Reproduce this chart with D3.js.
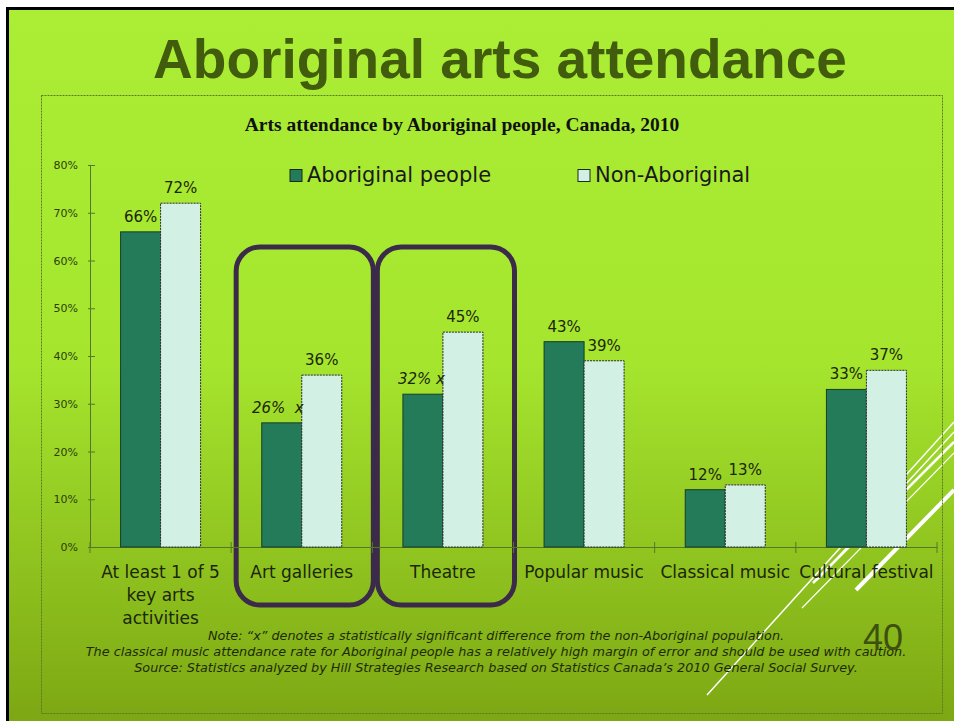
<!DOCTYPE html>
<html>
<head>
<meta charset="utf-8">
<title>Aboriginal arts attendance</title>
<script src="https://d3js.org/d3.v7.min.js"></script>
<style>
  body { margin: 0; background: #fff; }
  svg { display: block; }
</style>
</head>
<body>
<div id="chart"></div>
<script>
    // chart data
    var categories = ["At least 1 of 5 key arts activities", "Art galleries", "Theatre", "Popular music", "Classical music", "Cultural festival"];
    var categoryLines = [["At least 1 of 5", "key arts", "activities"], ["Art galleries"], ["Theatre"], ["Popular music"], ["Classical music"], ["Cultural festival"]];
    var seriesNames = ["Aboriginal people", "Non-Aboriginal"];
    var aboriginal = [66, 26, 32, 43, 12, 33];
    var nonAboriginal = [72, 36, 45, 39, 13, 37];
    var significant = [false, true, true, false, false, false]; // "x" marker
    var yTicks = [0, 10, 20, 30, 40, 50, 60, 70, 80];
    var highlighted = ["Art galleries", "Theatre"];
    var notes = [
        "Note: \u201cx\u201d denotes a statistically significant difference from the non-Aboriginal population.",
        "The classical music attendance rate for Aboriginal people has a relatively high margin of error and should be used with caution.",
        "Source: Statistics analyzed by Hill Strategies Research based on Statistics Canada\u2019s 2010 General Social Survey."
    ];

    var width = 954, height = 721;
    var darkFill = "#237b5a", lightFill = "#d3f0e4";
    var sansFont = "'DejaVu Sans', sans-serif";

    var svg = d3.select("#chart").append("svg")
        .attr("width", width)
        .attr("height", height);

    // slide background
    var defs = svg.append("defs");
    var grad = defs.append("linearGradient")
        .attr("id", "bg")
        .attr("x1", 0).attr("y1", 0).attr("x2", 0).attr("y2", 1);
    grad.append("stop").attr("offset", "0").attr("stop-color", "#abee35");
    grad.append("stop").attr("offset", "0.5").attr("stop-color", "#a5e52e");
    grad.append("stop").attr("offset", "1").attr("stop-color", "#7da713");

    svg.append("rect")
        .attr("x", 6).attr("y", 7)
        .attr("width", width - 6).attr("height", height - 7)
        .attr("fill", "url(#bg)");
    svg.append("line")
        .attr("x1", 6).attr("y1", 8.5).attr("x2", width).attr("y2", 8.5)
        .attr("stroke", "#000").attr("stroke-width", 3);
    svg.append("line")
        .attr("x1", 7.5).attr("y1", 7).attr("x2", 7.5).attr("y2", height)
        .attr("stroke", "#000").attr("stroke-width", 3);

    // decorative white strokes, bottom right (drawn under the bars)
    var strokes = [
        [707, 695, 954, 422, 1.5],
        [856, 590, 954, 490, 4],
        [813, 583, 954, 442, 2.5],
        [817, 580, 954, 432, 1.5],
        [802, 608, 954, 453, 1.2]
    ];
    svg.append("g").selectAll("line")
        .data(strokes)
        .enter().append("line")
        .attr("x1", function (d) { return d[0]; })
        .attr("y1", function (d) { return d[1]; })
        .attr("x2", function (d) { return d[2]; })
        .attr("y2", function (d) { return d[3]; })
        .attr("stroke", "#fff")
        .attr("stroke-width", function (d) { return d[4]; });

    // slide title
    svg.append("text")
        .attr("x", 500).attr("y", 78)
        .attr("text-anchor", "middle")
        .attr("font-family", "'Liberation Sans', Arial, sans-serif")
        .attr("font-weight", "bold")
        .attr("font-size", "55px")
        .attr("fill", "#415c0c")
        .text("Aboriginal arts attendance");

    // chart frame
    svg.append("rect")
        .attr("x", 41.5).attr("y", 95.5)
        .attr("width", 901).attr("height", 618)
        .attr("fill", "none")
        .attr("stroke", "#5b7a22")
        .attr("stroke-dasharray", "2,1");

    svg.append("text")
        .attr("x", 462).attr("y", 131)
        .attr("text-anchor", "middle")
        .attr("font-family", "'Liberation Serif', 'Times New Roman', serif")
        .attr("font-weight", "bold")
        .attr("font-size", "19.5px")
        .attr("fill", "#111")
        .text("Arts attendance by Aboriginal people, Canada, 2010");

    // scales
    var x = d3.scaleBand().domain(categories).range([90, 937]).padding(0);
    var y = d3.scaleLinear().domain([0, 80]).range([547, 165]);
    var barW = 40;

    // highlight boxes
    svg.append("g").selectAll("rect")
        .data(highlighted)
        .enter().append("rect")
        .attr("x", function (d) { return x(d) + 5; })
        .attr("y", 247)
        .attr("width", x.bandwidth() - 4)
        .attr("height", 358)
        .attr("rx", 24).attr("ry", 24)
        .attr("fill", "none")
        .attr("stroke", "#3b2a4a")
        .attr("stroke-width", 5);

    // y axis
    var yAxis = svg.append("g")
        .attr("transform", "translate(90,0)")
        .call(d3.axisLeft(y).tickValues(yTicks).tickSize(2).tickPadding(10)
            .tickFormat(function (d) { return d + "%"; }));
    yAxis.select(".domain").attr("stroke", "#56772a");
    yAxis.selectAll(".tick line").attr("x1", -2).attr("x2", 5).attr("stroke", "#56772a");
    yAxis.selectAll(".tick text")
        .attr("font-family", sansFont)
        .attr("font-size", "11px")
        .attr("fill", "#2d400a");

    // x axis
    var xAxis = svg.append("g")
        .attr("transform", "translate(0,547)")
        .call(d3.axisBottom(x).tickSize(0).tickFormat(""));
    xAxis.select(".domain").attr("stroke", "#56772a");
    xAxis.selectAll(".tick").remove();
    xAxis.selectAll(".sep")
        .data(categories.concat(["end"]))
        .enter().append("line")
        .attr("x1", function (d, i) { return i < categories.length ? x(d) : x.range()[1]; })
        .attr("x2", function (d, i) { return i < categories.length ? x(d) : x.range()[1]; })
        .attr("y1", -5).attr("y2", 6)
        .attr("stroke", "#56772a");

    // bars
    var bars = svg.append("g");
    bars.selectAll(".dark")
        .data(aboriginal)
        .enter().append("rect")
        .attr("x", function (d, i) { return x(categories[i]) + x.bandwidth() / 2 - barW; })
        .attr("y", function (d) { return y(d); })
        .attr("width", barW)
        .attr("height", function (d) { return y(0) - y(d); })
        .attr("fill", darkFill)
        .attr("stroke", "#173d2a")
        .attr("stroke-width", 1);
    bars.selectAll(".light")
        .data(nonAboriginal)
        .enter().append("rect")
        .attr("x", function (d, i) { return x(categories[i]) + x.bandwidth() / 2; })
        .attr("y", function (d) { return y(d); })
        .attr("width", barW)
        .attr("height", function (d) { return y(0) - y(d); })
        .attr("fill", lightFill)
        .attr("stroke", "#2a2a2a")
        .attr("stroke-width", 1)
        .attr("stroke-dasharray", "2,1");

    // value labels
    var labels = svg.append("g")
        .attr("font-family", sansFont)
        .attr("font-size", "15px")
        .attr("fill", "#1c2608");
    labels.selectAll(".ab")
        .data(aboriginal)
        .enter().append("text")
        .attr("x", function (d, i) {
            var c = x(categories[i]) + x.bandwidth() / 2;
            return significant[i] ? c + 2 : c - barW / 2;
        })
        .attr("y", function (d) { return y(d) - 10; })
        .attr("text-anchor", function (d, i) { return significant[i] ? "end" : "middle"; })
        .attr("font-style", function (d, i) { return significant[i] ? "italic" : "normal"; })
        .text(function (d, i) {
            if (!significant[i]) return d + "%";
            return i === 1 ? d + "%\u00a0 x" : d + "% x";
        });
    labels.selectAll(".nab")
        .data(nonAboriginal)
        .enter().append("text")
        .attr("x", function (d, i) { return x(categories[i]) + x.bandwidth() / 2 + barW / 2; })
        .attr("y", function (d) { return y(d) - 10; })
        .attr("text-anchor", "middle")
        .text(function (d) { return d + "%"; });

    // category labels
    var cats = svg.append("g")
        .attr("font-family", sansFont)
        .attr("font-size", "17px")
        .attr("fill", "#1c2608")
        .attr("text-anchor", "middle");
    cats.selectAll("text")
        .data(categoryLines)
        .enter().append("text")
        .attr("x", function (d, i) { return x(categories[i]) + x.bandwidth() / 2; })
        .attr("y", 578)
        .each(function (lines) {
            var t = d3.select(this);
            lines.forEach(function (ln, j) {
                t.append("tspan")
                    .attr("x", t.attr("x"))
                    .attr("dy", j === 0 ? 0 : 23)
                    .text(ln);
            });
        });

    // legend
    var legend = svg.append("g")
        .attr("font-family", sansFont)
        .attr("font-size", "21px")
        .attr("fill", "#1a1a1a");
    var legendX = [290, 578];
    var legendFill = [darkFill, lightFill];
    seriesNames.forEach(function (name, i) {
        legend.append("rect")
            .attr("x", legendX[i]).attr("y", 169.5)
            .attr("width", 12).attr("height", 12)
            .attr("fill", legendFill[i])
            .attr("stroke", "#1a2a1a");
        legend.append("text")
            .attr("x", legendX[i] + 17).attr("y", 182)
            .text(name);
    });

    // notes
    svg.append("g")
        .attr("font-family", sansFont)
        .attr("font-size", "12.8px")
        .attr("font-style", "italic")
        .attr("fill", "#1e2a06")
        .attr("text-anchor", "middle")
        .selectAll("text")
        .data(notes)
        .enter().append("text")
        .attr("x", 496)
        .attr("y", function (d, i) { return 640 + i * 16; })
        .text(function (d) { return d; });

    // slide number
    svg.append("text")
        .attr("x", 883).attr("y", 650)
        .attr("text-anchor", "middle")
        .attr("font-family", "'Liberation Sans', Arial, sans-serif")
        .attr("font-size", "36px")
        .attr("fill", "#3d5010")
        .text("40");
</script>
</body>
</html>
